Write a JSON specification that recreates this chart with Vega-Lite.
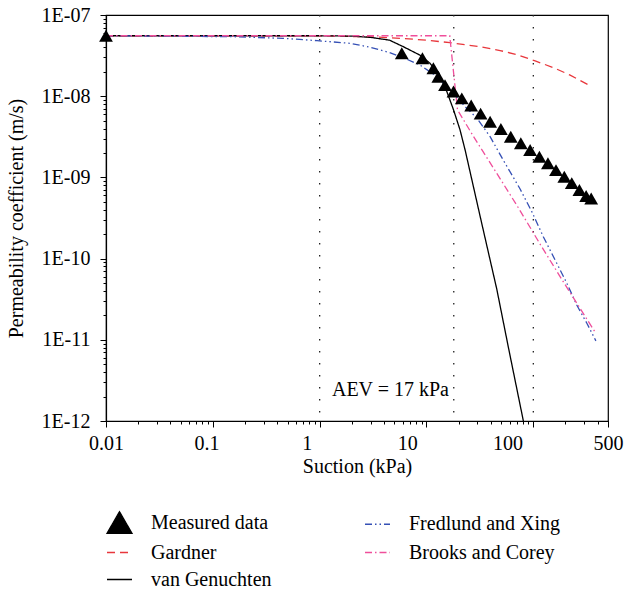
{
  "$schema": "https://vega.github.io/schema/vega-lite/v6.json",
  "width": 502,
  "height": 406,
  "autosize": {"type": "none"},
  "padding": {"left": 106, "top": 15, "right": 16, "bottom": 168},
  "background": "white",
  "datasets": {
    "curves": [
      {"series": "Gardner", "x": 0.01, "y": 5.55e-8},
      {"series": "Gardner", "x": 1, "y": 5.55e-8},
      {"series": "Gardner", "x": 3.5, "y": 5.35e-8},
      {"series": "Gardner", "x": 5.66, "y": 5.16e-8},
      {"series": "Gardner", "x": 10, "y": 4.9e-8},
      {"series": "Gardner", "x": 16.6, "y": 4.56e-8},
      {"series": "Gardner", "x": 31.8, "y": 4.07e-8},
      {"series": "Gardner", "x": 48.9, "y": 3.65e-8},
      {"series": "Gardner", "x": 70, "y": 3.25e-8},
      {"series": "Gardner", "x": 104, "y": 2.72e-8},
      {"series": "Gardner", "x": 154, "y": 2.25e-8},
      {"series": "Gardner", "x": 221, "y": 1.82e-8},
      {"series": "Gardner", "x": 328, "y": 1.38e-8},
      {"series": "Gardner", "x": 345, "y": 1.32e-8},
      {"series": "van Genuchten", "x": 0.01, "y": 5.55e-8},
      {"series": "van Genuchten", "x": 1, "y": 5.55e-8},
      {"series": "van Genuchten", "x": 2, "y": 5.5e-8},
      {"series": "van Genuchten", "x": 3, "y": 5.3e-8},
      {"series": "van Genuchten", "x": 4.5, "y": 4.9e-8},
      {"series": "van Genuchten", "x": 6, "y": 4.1e-8},
      {"series": "van Genuchten", "x": 8.7, "y": 3.2e-8},
      {"series": "van Genuchten", "x": 10.8, "y": 2.54e-8},
      {"series": "van Genuchten", "x": 13.4, "y": 1.74e-8},
      {"series": "van Genuchten", "x": 15.5, "y": 1.14e-8},
      {"series": "van Genuchten", "x": 17.9, "y": 6.8e-9},
      {"series": "van Genuchten", "x": 20.6, "y": 3.85e-9},
      {"series": "van Genuchten", "x": 23, "y": 2.17e-9},
      {"series": "van Genuchten", "x": 31.8, "y": 3.3e-10},
      {"series": "van Genuchten", "x": 45.5, "y": 4.2e-11},
      {"series": "van Genuchten", "x": 58.5, "y": 8.0e-12},
      {"series": "van Genuchten", "x": 80.7, "y": 1.0e-12},
      {"series": "van Genuchten", "x": 90, "y": 4.0e-13},
      {"series": "Fredlund and Xing", "x": 0.01, "y": 5.55e-8},
      {"series": "Fredlund and Xing", "x": 0.155, "y": 5.41e-8},
      {"series": "Fredlund and Xing", "x": 0.454, "y": 5.16e-8},
      {"series": "Fredlund and Xing", "x": 0.946, "y": 4.83e-8},
      {"series": "Fredlund and Xing", "x": 1.93, "y": 4.48e-8},
      {"series": "Fredlund and Xing", "x": 3.0, "y": 4.0e-8},
      {"series": "Fredlund and Xing", "x": 4.5, "y": 3.45e-8},
      {"series": "Fredlund and Xing", "x": 6.0, "y": 3.0e-8},
      {"series": "Fredlund and Xing", "x": 8.7, "y": 2.42e-8},
      {"series": "Fredlund and Xing", "x": 12.6, "y": 1.74e-8},
      {"series": "Fredlund and Xing", "x": 17.7, "y": 1.09e-8},
      {"series": "Fredlund and Xing", "x": 24, "y": 7.0e-9},
      {"series": "Fredlund and Xing", "x": 29.6, "y": 5.4e-9},
      {"series": "Fredlund and Xing", "x": 39.4, "y": 3.17e-9},
      {"series": "Fredlund and Xing", "x": 52.2, "y": 1.64e-9},
      {"series": "Fredlund and Xing", "x": 75.2, "y": 7.2e-10},
      {"series": "Fredlund and Xing", "x": 96.8, "y": 3.78e-10},
      {"series": "Fredlund and Xing", "x": 124, "y": 1.86e-10},
      {"series": "Fredlund and Xing", "x": 160, "y": 9.6e-11},
      {"series": "Fredlund and Xing", "x": 206, "y": 4.97e-11},
      {"series": "Fredlund and Xing", "x": 255, "y": 2.68e-11},
      {"series": "Fredlund and Xing", "x": 317, "y": 1.6e-11},
      {"series": "Fredlund and Xing", "x": 385, "y": 9.7e-12},
      {"series": "Brooks and Corey", "x": 0.01, "y": 5.55e-8},
      {"series": "Brooks and Corey", "x": 16.5, "y": 5.55e-8},
      {"series": "Brooks and Corey", "x": 19.5, "y": 6.8e-9},
      {"series": "Brooks and Corey", "x": 27.5, "y": 3.2e-9},
      {"series": "Brooks and Corey", "x": 45.5, "y": 1.12e-9},
      {"series": "Brooks and Corey", "x": 72.6, "y": 4.2e-10},
      {"series": "Brooks and Corey", "x": 116, "y": 1.5e-10},
      {"series": "Brooks and Corey", "x": 178, "y": 6.0e-11},
      {"series": "Brooks and Corey", "x": 294, "y": 2.1e-11},
      {"series": "Brooks and Corey", "x": 385, "y": 1.2e-11}
    ],
    "measured": [
      {"series": "Measured data", "x": 0.01, "y": 5.55e-8},
      {"series": "Measured data", "x": 5.87, "y": 3.38e-8},
      {"series": "Measured data", "x": 9.16, "y": 2.93e-8},
      {"series": "Measured data", "x": 11.6, "y": 2.21e-8},
      {"series": "Measured data", "x": 12.9, "y": 1.74e-8},
      {"series": "Measured data", "x": 14.9, "y": 1.37e-8},
      {"series": "Measured data", "x": 17.9, "y": 1.14e-8},
      {"series": "Measured data", "x": 21.4, "y": 9.4e-9},
      {"series": "Measured data", "x": 26.2, "y": 7.7e-9},
      {"series": "Measured data", "x": 32.1, "y": 6.1e-9},
      {"series": "Measured data", "x": 39.4, "y": 4.85e-9},
      {"series": "Measured data", "x": 49.7, "y": 3.94e-9},
      {"series": "Measured data", "x": 61.5, "y": 3.17e-9},
      {"series": "Measured data", "x": 76.4, "y": 2.63e-9},
      {"series": "Measured data", "x": 93.3, "y": 2.17e-9},
      {"series": "Measured data", "x": 114, "y": 1.8e-9},
      {"series": "Measured data", "x": 137, "y": 1.49e-9},
      {"series": "Measured data", "x": 163, "y": 1.23e-9},
      {"series": "Measured data", "x": 195, "y": 1.02e-9},
      {"series": "Measured data", "x": 229, "y": 8.5e-10},
      {"series": "Measured data", "x": 270, "y": 7.0e-10},
      {"series": "Measured data", "x": 312, "y": 5.9e-10},
      {"series": "Measured data", "x": 348, "y": 5.5e-10}
    ],
    "guides": [{"x": 1}, {"x": 18}, {"x": 100}],
    "note": [{"x": 4.6, "y": 2.4e-12, "label": "AEV = 17 kPa"}],
    "ticklabels": [{"i": 0}, {"i": 5}]
  },
  "layer": [
    {
      "layer": [
        {
          "data": {"name": "guides"},
          "mark": {"type": "rule", "color": "#222222", "strokeWidth": 1.3, "strokeDash": [1.5, 10.5]},
          "encoding": {
            "x": {
              "field": "x", "type": "quantitative",
              "scale": {"type": "log", "domain": [0.01, 500], "nice": false},
              "axis": {"orient": "bottom", "values": [0.01, 0.1, 1, 10, 100, 500], "labels": false, "tickSize": 6, "title": null, "domain": true, "grid": false}
            }
          }
        },
        {
          "data": {"name": "curves"},
          "mark": {"type": "line", "strokeWidth": 1.3, "clip": true},
          "encoding": {
            "x": {
              "field": "x", "type": "quantitative",
              "scale": {"type": "log", "domain": [0.01, 500], "nice": false},
              "axis": {"orient": "bottom", "values": [0.02,0.03,0.04,0.05,0.06,0.07,0.08,0.09,0.2,0.3,0.4,0.5,0.6,0.7,0.8,0.9,2,3,4,5,6,7,8,9,20,30,40,50,60,70,80,90,200,300,400], "labels": false, "tickSize": 3, "title": null, "domain": false, "grid": false}
            },
            "y": {
              "field": "y", "type": "quantitative",
              "scale": {"type": "log", "domain": [1e-12, 1e-7], "nice": false},
              "axis": {
                "orient": "left",
                "values": [1e-12, 1e-11, 1e-10, 1e-9, 1e-8, 1e-7],
                "labelExpr": "'1E-' + (round(-log(datum.value)/LN10) < 10 ? '0' : '') + round(-log(datum.value)/LN10)",
                "tickSize": 6, "labelPadding": 10, "grid": false,
                "title": "Permeability coefficient (m/s)",
                "titleX": -84, "titleBaseline": "alphabetic"
              }
            },
            "color": {
              "field": "series", "type": "nominal",
              "scale": {
                "domain": ["Measured data", "Gardner", "van Genuchten", "Fredlund and Xing", "Brooks and Corey"],
                "range": ["#000000", "#e8373c", "#000000", "#3550b5", "#ef4f9b"]
              },
              "legend": {
                "title": null,
                "orient": "none",
                "legendX": 0,
                "legendY": 494,
                "columns": 2,
                "columnPadding": 90,
                "rowPadding": 3,
                "symbolSize": 625,
                "symbolStrokeWidth": 1.3,
                "labelOffset": 18,
                "padding": 0,
                "labelFont": "Liberation Serif",
                "labelFontSize": 20,
                "labelColor": "#000000",
                "labelLimit": 300
              }
            },
            "strokeDash": {
              "field": "series", "type": "nominal",
              "scale": {
                "domain": ["Measured data", "Gardner", "van Genuchten", "Fredlund and Xing", "Brooks and Corey"],
                "range": [[1, 0], [8, 5], [1, 0], [7, 3, 1.5, 3, 1.5, 3], [7, 3, 1.5, 3]]
              }
            }
          }
        },
        {
          "data": {"name": "measured"},
          "mark": {"type": "point", "filled": true, "size": 190, "opacity": 1},
          "encoding": {
            "x": {"field": "x", "type": "quantitative", "scale": {"type": "log", "domain": [0.01, 500], "nice": false}, "axis": null},
            "y": {
              "field": "y", "type": "quantitative",
              "scale": {"type": "log", "domain": [1e-12, 1e-7], "nice": false},
              "axis": {"orient": "left", "values": [2e-12,3e-12,4e-12,5e-12,6e-12,7e-12,8e-12,9e-12,2e-11,3e-11,4e-11,5e-11,6e-11,7e-11,8e-11,9e-11,2e-10,3e-10,4e-10,5e-10,6e-10,7e-10,8e-10,9e-10,2e-9,3e-9,4e-9,5e-9,6e-9,7e-9,8e-9,9e-9,2e-8,3e-8,4e-8,5e-8,6e-8,7e-8,8e-8,9e-8], "labels": false, "tickSize": 3, "title": null, "domain": false, "grid": false}
            },
            "color": {"field": "series", "type": "nominal"},
            "shape": {
              "field": "series", "type": "nominal",
              "scale": {
                "domain": ["Measured data", "Gardner", "van Genuchten", "Fredlund and Xing", "Brooks and Corey"],
                "range": ["triangle-up", "stroke", "stroke", "stroke", "stroke"]
              }
            }
          }
        },
        {
          "data": {"name": "note"},
          "mark": {"type": "text", "font": "Liberation Serif", "fontSize": 20, "color": "#000000", "align": "center", "baseline": "middle"},
          "encoding": {
            "x": {"field": "x", "type": "quantitative", "scale": {"type": "log", "domain": [0.01, 500], "nice": false}, "axis": null},
            "y": {"field": "y", "type": "quantitative", "scale": {"type": "log", "domain": [1e-12, 1e-7], "nice": false}, "axis": null},
            "text": {"field": "label"}
          }
        }
      ],
      "resolve": {"axis": {"x": "independent", "y": "independent"}}
    },
    {
      "data": {"name": "ticklabels"},
      "mark": {"type": "rule", "opacity": 0},
      "encoding": {
        "x": {
          "field": "i", "type": "quantitative",
          "scale": {"domain": [0, 5], "nice": false, "zero": false},
          "axis": {
            "orient": "bottom",
            "values": [0, 1, 2, 3, 4, 5],
            "labelExpr": "['0.01','0.1','1','10','100','500'][datum.value]",
            "ticks": false, "tickSize": 0, "domain": false, "grid": false,
            "labelPadding": 12, "labelFlush": false, "labelOverlap": false,
            "title": "Suction (kPa)", "titleY": 51, "titleBaseline": "alphabetic"
          }
        }
      }
    }
  ],
  "resolve": {"scale": {"x": "independent"}, "axis": {"x": "independent"}},
  "config": {
    "view": {"stroke": "#000000", "strokeWidth": 1.2},
    "font": "Liberation Serif",
    "axis": {
      "labelFont": "Liberation Serif", "labelFontSize": 20, "labelColor": "#000000",
      "titleFont": "Liberation Serif", "titleFontSize": 20, "titleFontWeight": "normal", "titleColor": "#000000",
      "domainColor": "#000000", "domainWidth": 1.2, "tickColor": "#000000", "tickWidth": 1
    },
    "legend": {
      "labelFont": "Liberation Serif", "labelFontSize": 20, "labelColor": "#000000", "labelLimit": 300
    }
  }
}
